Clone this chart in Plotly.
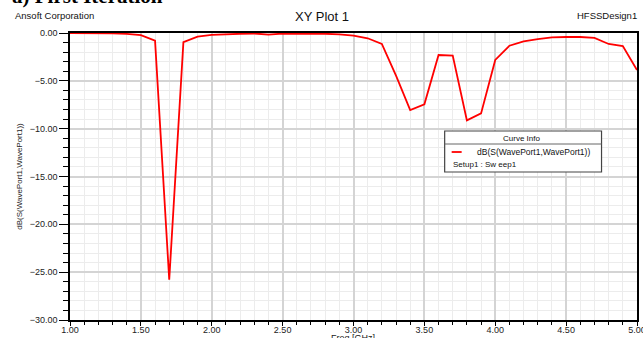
import plotly.graph_objects as go

# Frequency sweep (GHz) and return loss dB(S11)
freq_ghz = [1.0, 1.1, 1.2, 1.3, 1.4, 1.5, 1.6, 1.7, 1.8, 1.9,
            2.0, 2.1, 2.2, 2.3, 2.4, 2.5, 2.6, 2.7, 2.8, 2.9,
            3.0, 3.1, 3.2, 3.3, 3.4, 3.5, 3.6, 3.7, 3.8, 3.9,
            4.0, 4.1, 4.2, 4.3, 4.4, 4.5, 4.6, 4.7, 4.8, 4.9, 5.0]
s11_db = [0.00, 0.00, -0.01, -0.03, -0.10, -0.22, -0.80, -25.80, -0.95, -0.38,
          -0.20, -0.12, -0.08, -0.05, -0.17, -0.06, -0.05, -0.05, -0.08, -0.14,
          -0.28, -0.55, -1.15, -4.45, -8.05, -7.45, -2.30, -2.37, -9.13, -8.40,
          -2.82, -1.33, -0.87, -0.64, -0.46, -0.42, -0.42, -0.52, -1.15, -1.36, -3.87]

x_ticks = [1.0, 1.5, 2.0, 2.5, 3.0, 3.5, 4.0, 4.5, 5.0]
y_ticks = [0, -5, -10, -15, -20, -25, -30]

W, H = 643, 338
L, R, T, B = 70, 5.5, 33, 18
PW, PH = W - L - R, H - T - B


def px(xp):
    return (xp - L) / PW


def py(yp):
    return (H - B - yp) / PH


FONT = "Liberation Sans, Arial, sans-serif"

fig = go.Figure()
fig.add_trace(go.Scatter(
    x=freq_ghz, y=s11_db, mode="lines",
    line=dict(color="#ff0000", width=1.8),
    showlegend=False, hoverinfo="x+y",
))

axis_common = dict(
    showline=True, linecolor="#000000", linewidth=1.5, mirror=True,
    ticks="outside", tickcolor="#000000", tickwidth=1,
    showgrid=True, gridcolor="#d4d4d4", gridwidth=1.6,
    zeroline=False, tickformat=".2f", ticklabeloverflow="allow",
    automargin=False,
    tickfont=dict(family=FONT, size=9, color="#222222"),
)

fig.update_xaxes(
    **axis_common, range=[1, 5], tickvals=x_ticks, ticklen=4,
    ticklabelstandoff=-4,
    minor=dict(dtick=0.1, tick0=1.0, showgrid=True, gridcolor="#ececec",
               gridwidth=1, ticks="outside", ticklen=3, tickcolor="#000000"),
)
fig.update_yaxes(
    **axis_common, range=[-30, 0], tickvals=y_ticks, ticklen=9,
    minor=dict(dtick=1, tick0=0, showgrid=True, gridcolor="#ececec",
               gridwidth=1, ticks="outside", ticklen=5, tickcolor="#000000"),
    title=dict(text="dB(S(WavePort1,WavePort1))", standoff=6,
               font=dict(family=FONT, size=8, color="#222222")),
)


def note(text, xp, yp, anchor, size, family=FONT, color="#111111"):
    return dict(text=text, x=px(xp), y=py(yp), xref="paper", yref="paper",
                xanchor=anchor, yanchor="middle", showarrow=False,
                font=dict(family=family, size=size, color=color))


annotations = [
    note("<b>a) First Iteration</b>", 10, -4, "left", 21,
         family="Liberation Serif, Times New Roman, serif", color="#000000"),
    note("Ansoft Corporation", 13, 15, "left", 9.5),
    note("XY Plot 1", 322, 16, "center", 13),
    note("HFSSDesign1", 640, 15, "right", 9.5),
    # x-axis title sits at the bottom edge of the page
    note("Freq [GHz]", 353, 338, "center", 9, color="#222222"),
    # Curve info box text
    note("Curve Info", 522, 138, "center", 8),
    note("dB(S(WavePort1,WavePort1))", 475, 152, "left", 8.5),
    note("Setup1 : Sw eep1", 451, 164, "left", 8),
]

shapes = [
    dict(type="rect", xref="paper", yref="paper", x0=px(445), x1=px(602),
         y0=py(172), y1=py(131), line=dict(color="#444444", width=1.2),
         fillcolor="#ffffff", layer="above"),
    dict(type="line", xref="paper", yref="paper", x0=px(445), x1=px(602),
         y0=py(144), y1=py(144), line=dict(color="#666666", width=1), layer="above"),
    dict(type="line", xref="paper", yref="paper", x0=px(452), x1=px(462),
         y0=py(152), y1=py(152), line=dict(color="#ff0000", width=1.8), layer="above"),
]

fig.update_layout(
    width=W, height=H,
    margin=dict(l=L, r=R, t=T, b=B, pad=0, autoexpand=False),
    paper_bgcolor="#ffffff", plot_bgcolor="#ffffff",
    annotations=annotations, shapes=shapes,
    showlegend=False,
)

fig.write_html("out.html")
